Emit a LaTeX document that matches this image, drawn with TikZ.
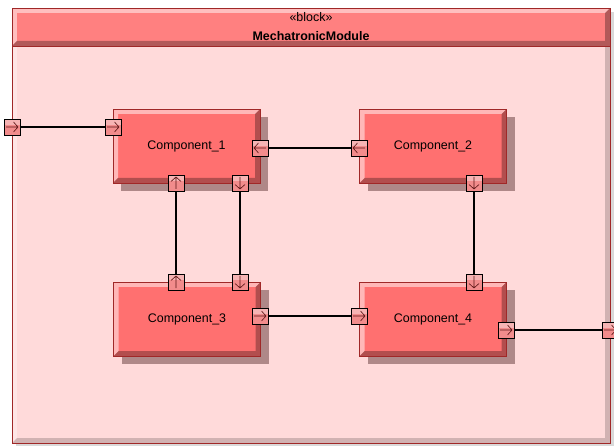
\documentclass[tikz,border=0pt]{standalone}
\usepackage{fontspec}
\setmainfont{Liberation Sans}
\usetikzlibrary{shadows}
\definecolor{compfill}{RGB}{255,112,112}
\definecolor{headfill}{RGB}{255,128,128}
\definecolor{bodyfill}{RGB}{255,218,218}
\definecolor{borderc}{RGB}{160,40,40}
\definecolor{portfill}{RGB}{242,140,140}
\definecolor{arrowc}{RGB}{90,20,20}
\definecolor{shadowc}{RGB}{57,13,13}
\tikzset{
  bevel/.style={path picture={
    \fill[white,opacity=#1]
      (path picture bounding box.north west) -- (path picture bounding box.north east)
      -- ([xshift=-5bp,yshift=-5bp]path picture bounding box.north east)
      -- ([xshift=5bp,yshift=-5bp]path picture bounding box.north west)
      -- ([xshift=5bp,yshift=5bp]path picture bounding box.south west)
      -- (path picture bounding box.south west) -- cycle;
    \fill[black,opacity=#1*0.6]
      (path picture bounding box.south east) -- (path picture bounding box.north east)
      -- ([xshift=-5bp,yshift=-5bp]path picture bounding box.north east)
      -- ([xshift=-5bp,yshift=5bp]path picture bounding box.south east)
      -- ([xshift=5bp,yshift=5bp]path picture bounding box.south west)
      -- (path picture bounding box.south west) -- cycle;
  }},
  comp/.style={draw=borderc, line width=0.8bp, fill=compfill, minimum width=147bp, minimum height=74bp,
    inner sep=0pt, font=\fontsize{12.5}{15}\selectfont, bevel=0.5,
    drop shadow={shadow xshift=8bp, shadow yshift=-8bp, fill=shadowc, opacity=0.4}},
  outer/.style={draw=borderc, line width=0.9bp, fill=bodyfill, minimum width=598bp, minimum height=435bp,
    inner sep=0pt, bevel=0.3,
    drop shadow={shadow xshift=4bp, shadow yshift=-4bp, fill=black, opacity=0.15}},
  header/.style={draw=borderc, line width=0.9bp, fill=headfill, minimum width=598bp, minimum height=38bp,
    inner sep=0pt, bevel=0.5, align=center, font=\fontsize{12.5}{19}\selectfont},
  port/.style={draw=black, line width=0.7bp, fill=portfill, minimum size=16bp, inner sep=0pt},
  parrow/.style={arrowc, line width=0.6bp},
  portR/.style={port, path picture={
      \fill[white,opacity=0.35] (path picture bounding box.north west) rectangle ([yshift=-6bp]path picture bounding box.north east);
      \draw[parrow] ([xshift=-6bp]path picture bounding box.center) -- ([xshift=6bp]path picture bounding box.center)
        ([xshift=1.5bp,yshift=5bp]path picture bounding box.center) -- ([xshift=6bp]path picture bounding box.center)
        -- ([xshift=1.5bp,yshift=-5bp]path picture bounding box.center);}},
  portL/.style={port, path picture={
      \fill[white,opacity=0.35] (path picture bounding box.north west) rectangle ([yshift=-6bp]path picture bounding box.north east);
      \draw[parrow] ([xshift=6bp]path picture bounding box.center) -- ([xshift=-6bp]path picture bounding box.center)
        ([xshift=-1.5bp,yshift=5bp]path picture bounding box.center) -- ([xshift=-6bp]path picture bounding box.center)
        -- ([xshift=-1.5bp,yshift=-5bp]path picture bounding box.center);}},
  portU/.style={port, path picture={
      \fill[white,opacity=0.35] (path picture bounding box.north west) rectangle ([yshift=-6bp]path picture bounding box.north east);
      \draw[parrow] ([yshift=-6bp]path picture bounding box.center) -- ([yshift=6bp]path picture bounding box.center)
        ([xshift=-5bp,yshift=1.5bp]path picture bounding box.center) -- ([yshift=6bp]path picture bounding box.center)
        -- ([xshift=5bp,yshift=1.5bp]path picture bounding box.center);}},
  portD/.style={port, path picture={
      \fill[white,opacity=0.35] (path picture bounding box.north west) rectangle ([yshift=-6bp]path picture bounding box.north east);
      \draw[parrow] ([yshift=6bp]path picture bounding box.center) -- ([yshift=-6bp]path picture bounding box.center)
        ([xshift=-5bp,yshift=-1.5bp]path picture bounding box.center) -- ([yshift=-6bp]path picture bounding box.center)
        -- ([xshift=5bp,yshift=-1.5bp]path picture bounding box.center);}},
  wire/.style={draw=black, line width=1.5bp}
}
\begin{document}
\begin{tikzpicture}[x=1bp,y=-1bp]
  \useasboundingbox (0,0) rectangle (614,446);
  \node[outer] (blk) at (311,225.5) {};
  \node[header] (hdr) at (311,27) {«block»\\\textbf{MechatronicModule}};
  \node[comp] (c1) at (186.5,146) {Component\_1};
  \node[comp] (c2) at (433,146) {Component\_2};
  \node[comp] (c3) at (187,319) {Component\_3};
  \node[comp] (c4) at (433,319) {Component\_4};
  % ports
  \node[portR] (pin)  at (12,127) {};
  \node[portR] (c1in) at (113,127) {};
  \node[portL] (c1r)  at (260,148) {};
  \node[portU] (c1b1) at (176,183) {};
  \node[portD] (c1b2) at (240,183) {};
  \node[portL] (c2l)  at (359,148) {};
  \node[portD] (c2b)  at (474,183) {};
  \node[portU] (c3t1) at (176,282) {};
  \node[portD] (c3t2) at (240,282) {};
  \node[portR] (c3r)  at (260,316) {};
  \node[portR] (c4l)  at (359,316) {};
  \node[portD] (c4t)  at (474,282) {};
  \node[portR] (c4r)  at (506,330) {};
  \node[portR] (pout) at (610,330) {};
  % connectors
  \draw[wire] (pin) -- (c1in);
  \draw[wire] (c1r) -- (c2l);
  \draw[wire] (c1b1) -- (c3t1);
  \draw[wire] (c1b2) -- (c3t2);
  \draw[wire] (c2b) -- (c4t);
  \draw[wire] (c3r) -- (c4l);
  \draw[wire] (c4r) -- (pout);
\end{tikzpicture}
\end{document}
